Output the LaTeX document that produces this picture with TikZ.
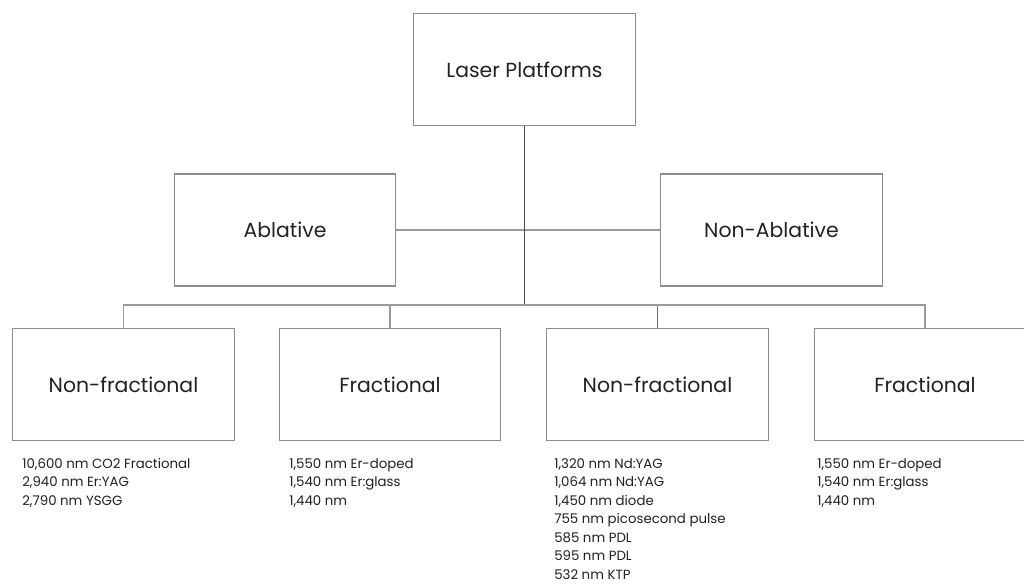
\documentclass[tikz,border=0pt]{standalone}
\usepackage{fontspec}
\setmainfont{Poppins}
\usepackage{tikz}
\usetikzlibrary{calc,positioning}
\definecolor{boxgray}{HTML}{8C8C8C}
\definecolor{linegray}{HTML}{9A9A9A}
\definecolor{trunkgray}{HTML}{4A4A4A}
\definecolor{textgray}{HTML}{222222}

\begin{document}
\begin{tikzpicture}[x=0.75pt,y=-0.75pt]
	    \clip (0,0) rectangle (1024,585);
	    \fill[white] (0,0) rectangle (1024,585);
	    \tikzstyle{platform}=[rectangle,draw=boxgray,line width=0.9pt,minimum width=166pt,minimum height=84pt,inner sep=0pt,text=textgray,font=\fontsize{15.3}{18}\selectfont]
	    \tikzstyle{wavelengths}=[anchor=north west,align=left,inner sep=0pt,text=textgray,font=\fontsize{10}{13.9}\selectfont]
	    \tikzstyle{branch}=[draw=linegray,line width=0.8pt]
	    % boxes
	    \node[platform] (root) at (524.5,69.5) {Laser Platforms};
	    \node[platform] (ablative) at (285,230) {Ablative};
	    \node[platform] (nonablative) at (771.5,230) {Non-Ablative};
	    \node[platform] (ablnonfrac) at (123.5,384.5) {Non-fractional};
	    \node[platform] (ablfrac) at (390,384.5) {Fractional};
	    \node[platform] (nonablnonfrac) at (657.5,384.5) {Non-fractional};
	    \node[platform] (nonablfrac) at (925,384.5) {Fractional};
	    \coordinate (bus) at (524.5,305);
	    % lists
	    \node[wavelengths] (ablnonfraclist) at (22,458) {10,600 nm CO2 Fractional\\2,940 nm Er:YAG\\2,790 nm YSGG};
	    \node[wavelengths] (ablfraclist) at (289,458) {1,550 nm Er-doped\\1,540 nm Er:glass\\1,440 nm};
	    \node[wavelengths] (nonablnonfraclist) at (554,458) {1,320 nm Nd:YAG\\1,064 nm Nd:YAG\\1,450 nm diode\\755 nm picosecond pulse\\585 nm PDL\\595 nm PDL\\532 nm KTP};
	    \node[wavelengths] (nonablfraclist) at (817,458) {1,550 nm Er-doped\\1,540 nm Er:glass\\1,440 nm};
	    % connectors
	    \draw[branch] (ablative) -- (nonablative);
	    \draw[draw=trunkgray,line width=0.9pt] (root) -- (bus);
	    \draw[branch] (ablnonfrac.north) |- (bus);
	    \draw[branch] (ablfrac.north) |- (bus);
	    \draw[branch,draw=trunkgray!80] (nonablnonfrac.north) |- (bus);
	    \draw[branch] (nonablfrac.north) |- (bus);
\end{tikzpicture}
\end{document}
